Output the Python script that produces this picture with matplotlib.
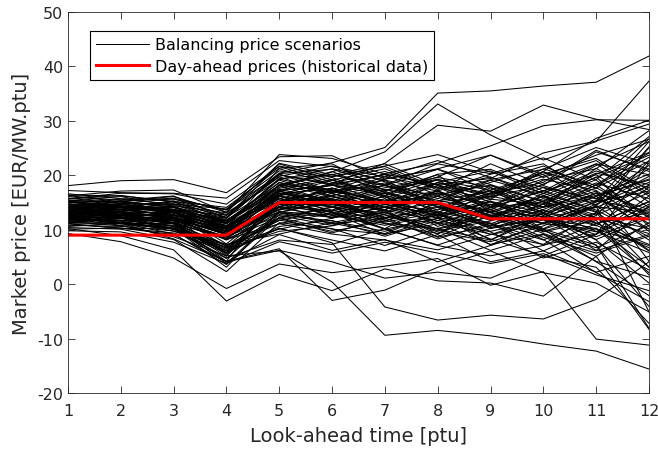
import matplotlib
matplotlib.use("Agg")
import matplotlib.pyplot as plt

plt.rcParams['axes.unicode_minus'] = False

# look-ahead time axis
ptu = list(range(1, 13))

# day-ahead prices (historical data)
day_ahead = [9, 9, 9, 9, 15, 15, 15, 15, 12, 12, 12, 12]

# balancing price scenarios (approx.)
scenarios = [
    [13.2, 14.1, 15.3, 12.8, 20.4, 22.3, 25.1, 35.1, 35.5, 36.4, 37.1, 41.9],
    [12.4, 13.3, 12.2, 10.1, 18.2, 20.6, 24.3, 33.1, 27.4, 22.8, 26.2, 37.3],
    [14.3, 15.2, 15.8, 13.6, 20.1, 18.4, 22.2, 29.2, 28.1, 32.9, 30.3, 28.4],
    [11.3, 12.2, 11.4, 8.3, 15.2, 17.4, 20.3, 22.2, 25.4, 29.1, 30.2, 30.1],
    [13.1, 12.3, 10.6, 5.8, 10.3, 7.6, -4.2, -6.6, -5.7, -6.4, -2.8, 4.1],
    [12.1, 10.8, 8.7, 5.2, 6.1, 0.4, -9.4, -8.5, -9.5, -11.0, -12.3, -15.6],
    [10.2, 8.9, 6.3, -3.1, 1.8, -1.2, 2.8, 0.6, 0.2, -2.2, 5.1, -8.3],
    [9.3, 7.8, 4.8, -0.8, 3.7, 2.1, 3.3, 4.7, -0.2, 2.3, -10.1, -11.2],
    [16.2, 17.1, 17.3, 13.2, 23.8, 23.1, 20.2, 18.3, 19.4, 24.1, 26.3, 29.4],
    [18.1, 19.0, 19.2, 16.8, 23.4, 23.6, 19.3, 21.2, 23.7, 20.1, 14.3, 25.2],
    [15.2, 16.1, 14.3, 11.2, 19.3, 17.2, 15.4, 17.1, 12.3, 16.2, 20.4, 18.3],
    [14.1, 13.2, 12.4, 5.3, 16.2, 14.1, 18.3, 14.2, 10.4, 12.2, 9.1, 22.3],
    [13.4, 12.3, 13.1, 10.2, 17.3, 19.2, 16.1, 12.4, 15.3, 10.2, 14.4, 8.1],
    [12.2, 11.4, 10.3, 3.1, 13.4, 11.2, 9.3, 13.2, 8.1, 12.3, 6.2, 14.4],
    [11.1, 10.3, 9.4, 6.2, 12.1, 9.4, 12.2, 8.3, 11.2, 6.1, 10.3, 3.2],
    [14.4, 14.2, 15.1, 12.3, 18.1, 20.2, 17.3, 19.1, 14.2, 18.4, 22.1, 16.2],
    [13.6, 14.4, 13.3, 7.4, 15.1, 13.3, 10.2, 15.3, 17.1, 13.2, 18.3, 24.1],
    [12.7, 13.1, 11.2, 8.4, 14.3, 16.1, 13.4, 9.2, 13.4, 16.1, 11.2, 7.3],
    [15.3, 14.3, 13.2, 10.4, 21.2, 18.3, 20.1, 16.4, 18.2, 14.1, 16.3, 20.2],
    [16.1, 15.4, 16.2, 12.1, 20.3, 21.1, 18.2, 22.1, 20.3, 23.2, 19.1, 12.4],
    [10.4, 10.1, 8.2, 2.3, 11.3, 10.2, 7.1, 10.3, 6.2, 9.1, 4.2, 1.3],
    [11.6, 12.1, 12.3, 9.1, 13.2, 15.3, 14.1, 11.3, 9.2, 7.3, 13.1, 18.2],
    [13.3, 13.4, 14.2, 11.1, 16.3, 12.1, 15.2, 18.1, 16.4, 19.3, 17.2, 11.1],
    [14.2, 12.3, 11.1, 4.2, 17.1, 15.2, 11.4, 13.1, 7.2, 11.3, 15.1, 26.2],
    [12.3, 12.1, 10.2, 7.3, 9.2, 11.3, 13.2, 10.1, 12.4, 8.2, 2.1, -3.2],
    [15.4, 15.1, 14.4, 13.1, 19.1, 16.2, 19.3, 21.1, 18.3, 15.2, 12.1, 9.3],
    [13.2, 11.2, 10.3, 6.4, 14.2, 13.4, 16.2, 14.3, 11.1, 14.2, 21.3, 15.1],
    [14.6, 15.3, 14.1, 12.2, 22.1, 19.1, 21.2, 17.3, 22.1, 18.2, 24.3, 21.1],
    [11.2, 11.3, 9.2, 3.6, 12.3, 14.2, 10.1, 7.2, 10.3, 13.1, 8.2, 12.2],
    [12.8, 14.2, 13.3, 10.3, 15.3, 17.1, 15.2, 16.1, 13.2, 11.1, 14.3, -5.1],
    [13.7, 12.2, 12.1, 9.2, 16.1, 15.4, 12.3, 11.2, 14.1, 17.2, 13.3, 6.2],
    [16.4, 16.2, 15.2, 14.1, 21.3, 22.1, 17.2, 19.3, 16.1, 21.2, 18.1, 23.3],
    [10.6, 11.2, 10.1, 4.7, 13.1, 12.3, 14.2, 12.1, 8.3, 5.2, 9.1, 16.2],
    [14.3, 13.1, 13.2, 9.1, 18.3, 16.1, 14.3, 15.2, 19.1, 16.3, 11.2, 13.1],
    [12.1, 13.3, 12.1, 8.2, 11.1, 9.2, 8.1, 6.3, 9.1, 12.2, 16.1, 19.3],
    [15.1, 14.2, 15.2, 11.3, 17.2, 18.1, 20.2, 18.3, 15.1, 12.3, 10.2, 2.1],
    [13.5, 14.1, 12.3, 10.2, 14.1, 12.2, 13.1, 17.2, 12.1, 15.3, 19.2, 27.1],
    [11.4, 12.3, 11.1, 5.1, 15.1, 13.2, 11.1, 9.3, 14.2, 10.1, 7.2, -8.1],
    [14.1, 14.3, 13.1, 11.2, 19.2, 21.2, 19.1, 14.1, 17.3, 20.2, 23.1, 17.2],
    [12.5, 11.1, 11.2, 7.2, 10.1, 12.1, 15.1, 13.3, 11.2, 8.1, 12.3, 10.2],
    [13.1, 13.2, 12.2, 9.4, 17.1, 14.3, 12.1, 16.2, 13.1, 11.2, 15.2, 21.2],
    [15.6, 16.3, 15.1, 12.2, 20.1, 18.2, 16.3, 20.2, 21.1, 17.1, 20.1, 14.1],
    [12.2, 12.4, 11.3, 8.3, 12.2, 10.1, 9.2, 11.1, 7.3, 9.2, 5.1, 11.3],
    [14.7, 12.1, 12.3, 10.3, 16.2, 18.2, 17.1, 13.2, 16.2, 14.1, 17.1, 4.2],
    [13.8, 14.2, 14.1, 11.3, 18.2, 17.3, 14.1, 17.1, 20.2, 22.1, 16.2, 19.1],
    [11.1, 10.2, 10.3, 4.8, 8.1, 7.3, 10.2, 7.1, 5.2, 7.1, 11.1, 15.2],
    [12.6, 13.2, 13.1, 9.2, 14.2, 16.3, 18.1, 15.1, 12.2, 16.2, 13.2, 25.1],
    [14.2, 13.3, 14.3, 10.1, 17.2, 13.1, 15.1, 12.2, 15.2, 13.1, 8.1, 0.2],
    [13.3, 12.1, 11.3, 5.6, 13.2, 15.1, 12.2, 14.1, 10.2, 12.1, 14.2, 13.2],
    [16.3, 15.1, 14.1, 11.1, 19.4, 20.1, 22.1, 18.1, 14.3, 19.1, 21.2, 28.2],
    [12.3, 11.2, 12.1, 9.1, 15.2, 14.2, 11.2, 10.2, 13.2, 9.3, 6.1, 9.1],
    [13.1, 14.3, 13.2, 10.1, 16.4, 19.1, 16.2, 19.2, 17.2, 14.2, 18.2, 12.2],
    [10.1, 10.3, 9.1, 4.1, 9.1, 6.2, 8.2, 4.1, 7.1, 10.1, 4.1, -2.1],
    [14.1, 15.1, 13.3, 12.1, 20.2, 17.1, 18.1, 16.2, 19.2, 21.1, 25.1, 22.1],
    [12.4, 12.2, 12.2, 9.2, 14.1, 12.3, 14.1, 13.1, 9.1, 11.1, 10.1, 7.1],
    [13.2, 13.1, 11.1, 6.1, 15.1, 16.2, 13.2, 15.1, 16.1, 18.1, 15.1, 17.1],
    [15.2, 14.1, 13.1, 11.1, 18.1, 15.1, 17.1, 20.1, 13.1, 16.1, 12.2, 6.1],
    [11.3, 11.1, 11.1, 7.1, 11.1, 13.1, 9.1, 12.1, 11.1, 7.2, 9.2, 14.1],
    [14.1, 14.1, 14.2, 10.2, 16.1, 14.2, 16.1, 11.1, 14.1, 15.1, 20.2, 24.2],
    [12.1, 13.1, 12.1, 8.1, 13.1, 11.1, 12.1, 14.3, 12.1, 10.1, 13.1, 3.1],
    [13.4, 12.2, 13.2, 10.1, 17.2, 18.2, 15.1, 13.1, 18.1, 15.1, 11.1, 15.1],
    [15.1, 15.2, 16.1, 13.2, 22.2, 20.1, 18.1, 21.1, 17.1, 13.1, 16.1, 10.1],
    [12.2, 11.1, 10.1, 6.1, 10.2, 8.1, 6.1, 9.1, 4.1, 6.1, 2.2, 5.1],
    [13.3, 13.1, 12.1, 10.1, 14.2, 17.1, 19.1, 17.1, 14.1, 17.1, 22.1, 20.1],
    [14.3, 13.2, 12.1, 9.1, 15.2, 13.1, 10.1, 12.1, 15.1, 11.1, 14.1, 18.1],
    [11.2, 12.1, 10.1, 7.1, 12.1, 14.1, 13.1, 10.1, 8.1, 13.1, 7.1, -4.1],
    [13.1, 12.2, 10.2, 4.1, 6.2, 4.1, 1.1, 2.2, 1.1, 5.1, 3.1, -7.2],
    [12.2, 11.2, 8.3, 4.2, 6.5, -3.0, -1.1, 3.1, 6.1, 2.1, 0.2, -5.1],
    [14.8, 13.7, 12.6, 10.7, 16.6, 15.7, 13.6, 18.7, 15.8, 20.6, 17.7, 12.8],
    [12.9, 12.6, 11.7, 5.8, 14.7, 12.8, 15.7, 10.6, 13.8, 9.7, 12.6, 22.7],
    [13.9, 14.7, 13.8, 11.7, 17.8, 20.7, 16.8, 14.7, 10.6, 14.8, 19.7, 10.6],
    [11.8, 11.7, 10.8, 6.7, 11.8, 9.7, 11.6, 14.8, 12.7, 8.6, 5.7, 8.8],
    [15.8, 14.8, 15.7, 12.6, 19.7, 16.6, 14.7, 12.6, 16.7, 19.8, 23.7, 26.6],
    [13.7, 13.6, 12.8, 9.7, 13.6, 15.8, 17.7, 19.6, 17.8, 13.6, 9.7, 5.8],
    [12.7, 11.6, 11.7, 8.6, 16.7, 14.6, 12.7, 9.8, 11.6, 14.7, 18.6, 15.7],
    [14.9, 15.6, 14.7, 13.8, 21.7, 19.8, 21.7, 23.8, 20.6, 17.7, 14.6, 19.8],
    [10.8, 10.6, 9.8, 5.7, 10.6, 11.7, 8.8, 11.7, 9.6, 4.8, 7.7, 2.6],
    [13.6, 12.7, 13.6, 10.8, 15.7, 13.6, 16.7, 13.6, 16.8, 20.7, 15.6, 21.8],
    [12.6, 13.8, 12.7, 6.9, 14.8, 17.7, 14.6, 16.8, 14.6, 12.7, 16.8, 13.7],
    [15.7, 16.7, 16.6, 14.7, 21.6, 18.7, 16.6, 19.7, 23.7, 19.6, 22.7, 16.6],
    [11.7, 12.6, 11.8, 8.7, 12.6, 10.8, 13.7, 8.6, 10.8, 13.6, 10.7, 17.8],
    [14.6, 14.7, 13.7, 11.6, 18.7, 16.7, 18.6, 14.8, 11.7, 16.7, 13.6, 8.7],
    [13.4, 13.7, 12.6, 10.6, 15.6, 18.6, 20.7, 17.6, 19.7, 15.8, 19.6, 23.7],
    [12.1, 11.8, 10.6, 3.8, 12.8, 11.6, 9.7, 12.8, 9.7, 11.8, 8.7, 12.6],
    [14.2, 13.8, 14.8, 11.8, 17.6, 19.6, 15.8, 18.6, 16.6, 18.7, 24.6, 20.7],
    [13.0, 12.8, 11.8, 9.8, 14.6, 15.6, 11.7, 13.7, 17.7, 12.6, 16.7, 9.7],
    [11.5, 10.7, 10.7, 6.6, 9.7, 10.7, 12.8, 9.6, 7.8, 10.7, 14.7, 18.7],
    [15.0, 14.6, 13.6, 12.7, 19.8, 21.7, 18.8, 15.7, 18.7, 21.7, 17.6, 26.7],
    [12.3, 12.8, 12.8, 9.7, 13.7, 14.8, 16.8, 14.6, 13.7, 9.6, 11.7, 1.7],
    [13.8, 13.6, 13.7, 10.7, 16.8, 14.7, 13.7, 16.7, 12.6, 15.7, 12.7, 16.8],
    [16.6, 15.7, 15.6, 13.7, 20.8, 19.7, 21.6, 17.7, 15.6, 20.7, 26.8, 30.1],
    [9.8, 9.6, 7.7, 3.8, 7.8, 5.7, 7.7, 5.7, 3.8, 5.6, 1.7, -1.2],
    [12.8, 12.7, 11.6, 8.7, 13.8, 16.7, 13.6, 11.7, 14.7, 11.8, 9.6, 14.7],
    [14.0, 14.8, 14.6, 11.6, 18.6, 16.8, 19.7, 17.8, 13.7, 17.8, 15.7, 11.8],
    [13.5, 12.6, 12.7, 9.8, 15.8, 12.6, 14.7, 12.7, 10.8, 13.7, 17.7, 22.6],
    [17.2, 16.8, 16.7, 15.8, 22.7, 21.6, 19.7, 22.7, 19.6, 16.7, 20.8, 17.7],
    [11.9, 11.6, 9.7, 6.8, 11.7, 13.6, 11.8, 8.7, 12.7, 9.8, 6.7, 10.8],
    [13.6, 13.8, 13.6, 10.6, 16.6, 17.6, 14.8, 18.7, 20.8, 16.6, 21.8, 26.2],
    [12.6, 12.2, 11.8, 9.6, 13.3, 12.7, 10.8, 12.7, 15.6, 14.7, 10.8, 6.7],
    [14.5, 14.4, 13.4, 11.4, 17.4, 15.4, 17.4, 15.4, 13.4, 12.4, 15.4, 13.4],
]

fig = plt.figure(figsize=(6.58, 4.56), dpi=100)
ax = fig.add_axes([0.1033, 0.136, 0.883, 0.8355])

for i, s in enumerate(scenarios):
    ax.plot(ptu, s, color='black', lw=0.75,
            label='Balancing price scenarios' if i == 0 else None)
ax.plot(ptu, day_ahead, color='#ff0000', lw=2.2,
        label='Day-ahead prices (historical data)')

ax.set_xlim(1, 12)
ax.set_ylim(-20, 50)
ax.set_xticks(ptu)
ax.set_yticks(range(-20, 51, 10))
ax.tick_params(direction='in', top=True, right=True, labelsize=11.5,
               colors='#262626', length=5, width=0.6)
ax.tick_params(axis='x', pad=7)
for sp in ax.spines.values():
    sp.set_color('#262626')
    sp.set_linewidth(0.6)

ax.set_xlabel('Look-ahead time [ptu]', fontsize=14, color='#262626', labelpad=6)
ax.set_ylabel('Market price [EUR/MW.ptu]', fontsize=14, color='#262626')

leg = ax.legend(loc='upper left', bbox_to_anchor=(0.038, 0.95), fontsize=11.5,
                fancybox=False, framealpha=1, edgecolor='black',
                borderpad=0.4, handlelength=3.3, labelspacing=0.4,
                handletextpad=0.35, borderaxespad=0)
leg.get_frame().set_linewidth(0.8)

fig.savefig('out.png', dpi=100)
